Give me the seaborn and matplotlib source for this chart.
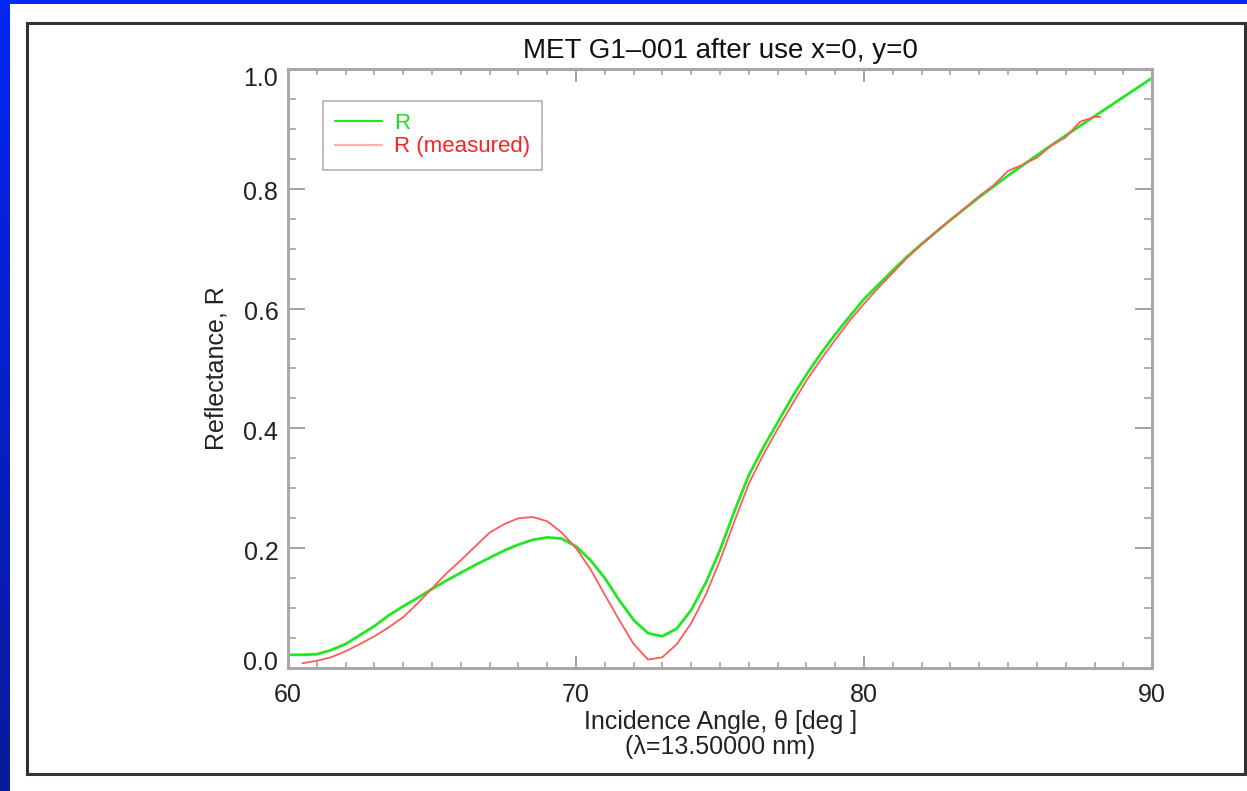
import numpy as np
import pandas as pd
import seaborn as sns
import matplotlib
matplotlib.use("Agg")
import matplotlib.pyplot as plt
from matplotlib.patches import Rectangle
from matplotlib.ticker import MultipleLocator
from matplotlib.transforms import ScaledTranslation

# calculated reflectance (green)
angle_model = [60.0, 60.5, 61.0, 61.5, 62.0, 62.5, 63.0, 63.5, 64.0, 64.5, 65.0, 65.5,
               66.0, 66.5, 67.0, 67.5, 68.0, 68.5, 69.0, 69.5, 70.0, 70.5, 71.0, 71.5,
               72.0, 72.5, 73.0, 73.5, 74.0, 74.5, 75.0, 75.5, 76.0, 76.5, 77.0, 77.5,
               78.0, 78.5, 79.0, 79.5, 80.0, 80.5, 81.0, 81.5, 82.0, 82.5, 83.0, 83.5,
               84.0, 84.5, 85.0, 86.0, 87.0, 88.0, 89.0, 90.0]
r_model = [0.022, 0.022, 0.023, 0.030, 0.040, 0.055, 0.070, 0.088, 0.103, 0.117, 0.132, 0.146,
           0.159, 0.172, 0.184, 0.196, 0.206, 0.214, 0.218, 0.216, 0.203, 0.180, 0.150, 0.113,
           0.080, 0.058, 0.053, 0.066, 0.097, 0.142, 0.197, 0.262, 0.322, 0.368, 0.410, 0.452,
           0.490, 0.525, 0.557, 0.587, 0.616, 0.640, 0.664, 0.687, 0.708, 0.728, 0.748, 0.767,
           0.786, 0.804, 0.822, 0.856, 0.889, 0.921, 0.953, 0.985]

# measured reflectance (red)
angle_meas = [60.5, 61.0, 61.5, 62.0, 62.5, 63.0, 63.5, 64.0, 64.5, 65.0, 65.5, 66.0,
              66.5, 67.0, 67.5, 68.0, 68.5, 69.0, 69.5, 70.0, 70.5, 71.0, 71.5, 72.0,
              72.5, 73.0, 73.5, 74.0, 74.5, 75.0, 75.5, 76.0, 76.5, 77.0, 77.5, 78.0,
              78.5, 79.0, 79.5, 80.0, 80.5, 81.0, 81.5, 82.0, 82.5, 83.0, 83.5, 84.0,
              84.5, 85.0, 85.5, 86.0, 86.5, 87.0, 87.5, 88.0, 88.2]
r_meas = [0.008, 0.012, 0.018, 0.028, 0.040, 0.053, 0.068, 0.085, 0.108, 0.133, 0.158, 0.180,
          0.203, 0.226, 0.240, 0.250, 0.252, 0.245, 0.226, 0.200, 0.165, 0.122, 0.080, 0.040,
          0.014, 0.018, 0.040, 0.075, 0.122, 0.180, 0.245, 0.308, 0.356, 0.399, 0.440, 0.480,
          0.515, 0.548, 0.580, 0.608, 0.635, 0.660, 0.685, 0.707, 0.728, 0.748, 0.768, 0.788,
          0.806, 0.830, 0.840, 0.852, 0.872, 0.886, 0.912, 0.920, 0.920]

labels = ["R", "R (measured)"]

df = pd.concat([
    pd.DataFrame({"angle": angle_model, "R": r_model, "series": labels[0]}),
    pd.DataFrame({"angle": angle_meas, "R": r_meas, "series": labels[1]}),
])

sns.set_theme(style="white")
plt.rcParams["font.family"] = ["Liberation Sans", "DejaVu Sans"]

fig = plt.figure(figsize=(12.47, 7.91), dpi=100)
ax = fig.add_axes([0.2310, 0.1555, 0.6929, 0.7573])

palette = {labels[0]: "#22e622", labels[1]: "#ff5a5a"}
sns.lineplot(data=df, x="angle", y="R", hue="series", palette=palette,
             size="series", sizes={labels[0]: 2.0, labels[1]: 1.3},
             ax=ax, legend=False, sort=False)

ax.set_xlim(60, 90)
ax.set_ylim(0, 1)
ax.xaxis.set_major_locator(MultipleLocator(10))
ax.xaxis.set_minor_locator(MultipleLocator(1))
ax.yaxis.set_major_locator(MultipleLocator(0.2))
ax.yaxis.set_minor_locator(MultipleLocator(0.05))
ax.xaxis.set_major_formatter(matplotlib.ticker.FormatStrFormatter("%d"))
ax.yaxis.set_major_formatter(matplotlib.ticker.FormatStrFormatter("%.1f"))

for s in ax.spines.values():
    s.set_color("#a8a8a8")
    s.set_linewidth(2.2)

ax.tick_params(axis="x", which="major", direction="in", length=9, width=1.3,
               color="#999999", top=True, bottom=True, labelsize=18, pad=11, labelcolor="#222222")
ax.tick_params(axis="x", which="minor", direction="in", length=4.5, width=1.1,
               color="#999999", top=True, bottom=True)
ax.tick_params(axis="y", which="major", direction="in", length=12, width=1.3,
               color="#999999", left=True, right=True, labelsize=18, pad=7, labelcolor="#222222")
ax.tick_params(axis="y", which="minor", direction="in", length=6, width=1.1,
               color="#999999", left=True, right=True)

# IDL keeps the end labels inside the axis range
fig.canvas.draw()
for lab in ax.get_yticklabels():
    v = lab.get_position()[1]
    if v > 0.99:
        dy = -8
    elif v < 0.01:
        dy = 7
    else:
        dy = -2
    lab.set_transform(lab.get_transform() + ScaledTranslation(0, dy / 100, fig.dpi_scale_trans))

ax.set_title("MET G1\u2013001 after use x=0, y=0", fontsize=20, pad=8, color="#111111")
ax.set_xlabel("Incidence Angle, \u03b8 [deg ]\n(\u03bb=13.50000 nm)", fontsize=18,
              labelpad=2, linespacing=1.05, color="#222222")
ax.set_ylabel("Reflectance, R", fontsize=18, labelpad=11, color="#222222")

# legend
handles = [plt.Line2D([], [], color="#22e622", lw=1.6),
           plt.Line2D([], [], color="#ffb0b0", lw=1.6)]
leg = ax.legend(handles, labels, loc="upper left", bbox_to_anchor=(0.040, 0.9466),
                fontsize=16, frameon=True, fancybox=False, edgecolor="#a0a0a0",
                handlelength=2.1, handletextpad=0.55, borderpad=0.55, labelspacing=0.1,
                borderaxespad=0)
leg.get_frame().set_linewidth(1.2)
for t, c in zip(leg.get_texts(), ["#18e018", "#ff2020"]):
    t.set_color(c)

# outer frame and blue slide border
fig.patches.append(Rectangle((27 / 1247, 1 - 774 / 791), (1245 - 27) / 1247, (774 - 23) / 791,
                             transform=fig.transFigure, fill=False, edgecolor="#333333", lw=2.2))
bax = fig.add_axes([0, 0, 10 / 1247, 1])
grad = np.linspace(0, 1, 256).reshape(-1, 1)
bax.imshow(grad, aspect="auto", cmap=matplotlib.colors.LinearSegmentedColormap.from_list(
    "b", ["#0426f4", "#0a1a9a"]))
bax.axis("off")
fig.patches.append(Rectangle((0, 1 - 4 / 791), 1, 4 / 791, transform=fig.transFigure,
                             color="#0428f8", lw=0))

fig.savefig("out.png", dpi=100)
